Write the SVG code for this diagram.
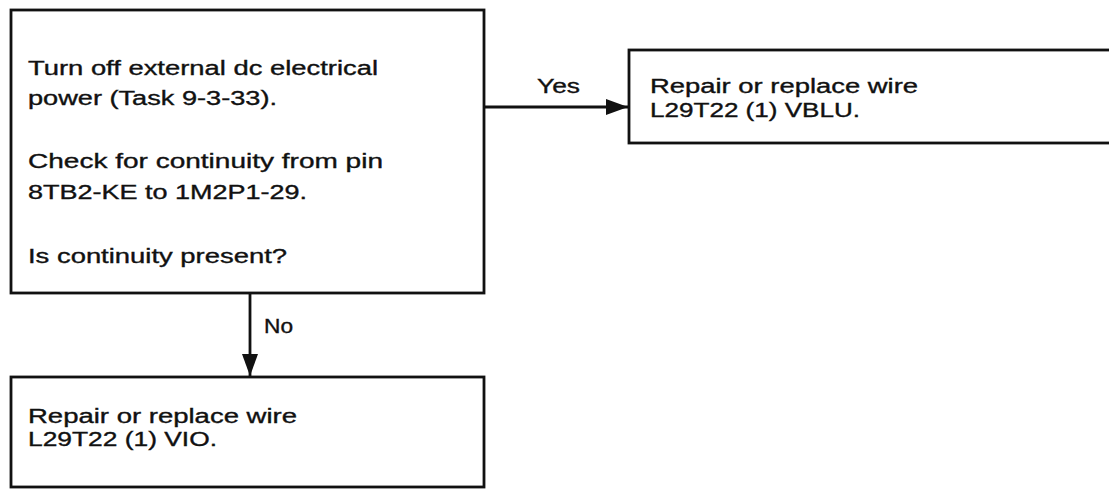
<svg xmlns="http://www.w3.org/2000/svg" width="1109" height="490" viewBox="0 0 1109 490">
<style>
.box{fill:#fff;stroke:#111;stroke-width:2.8}
.line{fill:none;stroke:#111;stroke-width:2.8}
text{font-family:"Liberation Sans",Arial,sans-serif;font-size:19.5px;fill:#111;stroke:#111;stroke-width:0.35}
</style>
<defs>
<marker id="arr" markerWidth="24" markerHeight="18" refX="22" refY="9" orient="auto" markerUnits="userSpaceOnUse">
<path d="M0,1 L22,9 L0,17 Z" fill="#111"/>
</marker>
</defs>
<rect width="1109" height="490" fill="#fff"/>
<g id="connectors">
<path class="line" d="M484,107 H628" marker-end="url(#arr)"/>
<path class="line" d="M250,293 V376" marker-end="url(#arr)"/>
<text x="537" y="93" textLength="43" lengthAdjust="spacingAndGlyphs">Yes</text>
<text x="264" y="333" textLength="29" lengthAdjust="spacingAndGlyphs">No</text>
</g>
<g id="check">
<rect class="box" x="11" y="10" width="473" height="283"/>
<text x="28" y="75" textLength="350" lengthAdjust="spacingAndGlyphs">Turn off external dc electrical</text>
<text x="28" y="105" textLength="249" lengthAdjust="spacingAndGlyphs">power (Task 9-3-33).</text>
<text x="28" y="168" textLength="355" lengthAdjust="spacingAndGlyphs">Check for continuity from pin</text>
<text x="28" y="199" textLength="279" lengthAdjust="spacingAndGlyphs">8TB2-KE to 1M2P1-29.</text>
<text x="28" y="263" textLength="259" lengthAdjust="spacingAndGlyphs">Is continuity present?</text>
</g>
<g id="repair-vblu">
<rect class="box" x="629" y="50" width="500" height="93"/>
<text x="650" y="93" textLength="268" lengthAdjust="spacingAndGlyphs">Repair or replace wire</text>
<text x="650" y="117" textLength="210" lengthAdjust="spacingAndGlyphs">L29T22 (1) VBLU.</text>
</g>
<g id="repair-vio">
<rect class="box" x="11" y="377" width="473" height="110"/>
<text x="28" y="423" textLength="269" lengthAdjust="spacingAndGlyphs">Repair or replace wire</text>
<text x="28" y="446" textLength="189" lengthAdjust="spacingAndGlyphs">L29T22 (1) VIO.</text>
</g>
</svg>
